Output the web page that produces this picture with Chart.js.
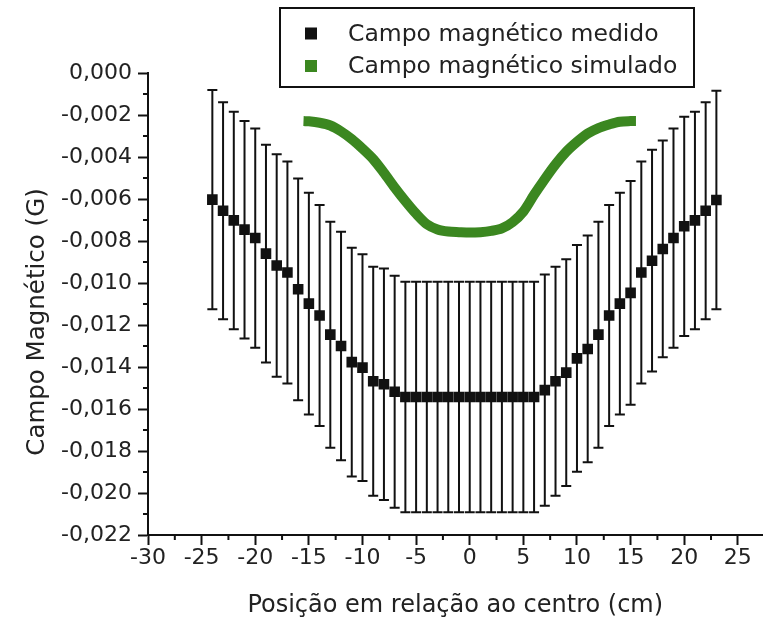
<!DOCTYPE html>
<html>
<head>
<meta charset="utf-8">
<script src="https://cdn.jsdelivr.net/npm/chart.js@4.4.1/dist/chart.umd.min.js"></script>
<style>
  html, body { margin: 0; padding: 0; background: #fff; }
  canvas { display: block; }
</style>
</head>
<body>
<canvas id="fieldChart" width="770" height="621"></canvas>
<script>
// measured field (G) vs position (cm), with error bars
const positions = [-24, -23, -22, -21, -20, -19, -18, -17, -16, -15, -14, -13, -12, -11, -10, -9, -8, -7,
  -6, -5, -4, -3, -2, -1, 0, 1, 2, 3, 4, 5, 6,
  7, 8, 9, 10, 11, 12, 13, 14, 15, 16, 17, 18, 19, 20, 21, 22, 23];
const measured = [-0.00603, -0.00656, -0.00702, -0.00746, -0.00786, -0.00860, -0.00917, -0.00950, -0.01030,
  -0.01098, -0.01155, -0.01246, -0.01300, -0.01377, -0.01403, -0.01468, -0.01482, -0.01518,
  -0.01543, -0.01543, -0.01543, -0.01543, -0.01543, -0.01543, -0.01543, -0.01543, -0.01543, -0.01543, -0.01543, -0.01543, -0.01543,
  -0.01510, -0.01468, -0.01427, -0.01359, -0.01314, -0.01246, -0.01155, -0.01098, -0.01047, -0.00950,
  -0.00894, -0.00838, -0.00786, -0.00730, -0.00702, -0.00656, -0.00605];
const measuredErr = [0.00522, 0.00517, 0.00518, 0.00518, 0.00522, 0.00518, 0.00530, 0.00528, 0.00528,
  0.00528, 0.00526, 0.00538, 0.00544, 0.00545, 0.00540, 0.00545, 0.00551, 0.00552,
  0.00549, 0.00549, 0.00549, 0.00549, 0.00549, 0.00549, 0.00549, 0.00549, 0.00549, 0.00549, 0.00549, 0.00549, 0.00549,
  0.00551, 0.00545, 0.00540, 0.00540, 0.00540, 0.00538, 0.00526, 0.00528, 0.00533, 0.00528,
  0.00528, 0.00516, 0.00522, 0.00522, 0.00518, 0.00517, 0.00520];

// simulated field
const simPositions = [-15.5, -15, -14, -13, -12, -11, -10, -9, -8, -7, -6, -5, -4, -3, -2, -1, 0,
  1, 2, 3, 4, 5, 6, 7, 8, 9, 10, 11, 12, 13, 14, 15, 15.5];
const simulated = [-0.00229, -0.00230, -0.00237, -0.00250, -0.00278, -0.00315, -0.00360, -0.00410, -0.00475,
  -0.00545, -0.00610, -0.00670, -0.00720, -0.00745, -0.00755, -0.00758, -0.00760,
  -0.00758, -0.00752, -0.00740, -0.00710, -0.00660, -0.00580, -0.00505, -0.00435, -0.00375,
  -0.00328, -0.00288, -0.00262, -0.00245, -0.00232, -0.00229, -0.00229];

const seriesLabels = ['Campo magnético medido', 'Campo magnético simulado'];
const xTitle = 'Posição em relação ao centro (cm)';
const yTitle = 'Campo Magnético (G)';

const INK = '#111';
const TEXT = '#222';
const GREEN = '#3b8720';
const FONT = 'DejaVu Sans';

const isMajorY = v => Math.round(Math.abs(v) * 1000) % 2 === 0;
const isMajorX = v => Math.round(v * 10) % 50 === 0;

// error bars drawn under the squares
const errorBars = {
  id: 'errorBars',
  beforeDatasetsDraw(chart) {
    const { ctx, scales: { x, y } } = chart;
    ctx.save();
    ctx.strokeStyle = INK;
    ctx.lineWidth = 2;
    positions.forEach((p, i) => {
      const px = x.getPixelForValue(p);
      const top = y.getPixelForValue(measured[i] + measuredErr[i]);
      const bot = y.getPixelForValue(measured[i] - measuredErr[i]);
      ctx.beginPath();
      ctx.moveTo(px, top); ctx.lineTo(px, bot);
      ctx.moveTo(px - 5, top); ctx.lineTo(px + 5, top);
      ctx.moveTo(px - 5, bot); ctx.lineTo(px + 5, bot);
      ctx.stroke();
    });
    ctx.restore();
  }
};

// short minor ticks + y title (sits a bit below the axis middle)
const axisExtras = {
  id: 'axisExtras',
  afterDraw(chart) {
    const { ctx, scales: { x, y } } = chart;
    ctx.save();
    ctx.strokeStyle = INK;
    ctx.lineWidth = 2;
    ctx.beginPath();
    y.ticks.forEach(t => {
      if (isMajorY(t.value)) return;
      const py = y.getPixelForValue(t.value);
      ctx.moveTo(y.right - 5, py); ctx.lineTo(y.right, py);
    });
    x.ticks.forEach(t => {
      if (isMajorX(t.value)) return;
      const px = x.getPixelForValue(t.value);
      ctx.moveTo(px, x.top); ctx.lineTo(px, x.top + 5);
    });
    ctx.stroke();

    ctx.translate(38, (y.top + y.bottom) / 2 + 18);
    ctx.rotate(-Math.PI / 2);
    ctx.font = '24.5px "' + FONT + '"';
    ctx.fillStyle = TEXT;
    ctx.textAlign = 'center';
    ctx.textBaseline = 'middle';
    ctx.fillText(yTitle, 0, 0);
    ctx.restore();
  }
};

// boxed legend overlapping the top of the plot
const boxLegend = {
  id: 'boxLegend',
  afterDraw(chart) {
    const ctx = chart.ctx;
    ctx.save();
    ctx.fillStyle = '#fff';
    ctx.fillRect(280, 8, 414, 79);
    ctx.strokeStyle = INK;
    ctx.lineWidth = 2;
    ctx.strokeRect(280, 8, 414, 79);
    ctx.font = '23.5px "' + FONT + '"';
    ctx.textBaseline = 'middle';
    chart.data.datasets.forEach((ds, i) => {
      const cy = 33.5 + i * 32.5;
      ctx.fillStyle = ds.legendColor;
      ctx.fillRect(305, cy - 6, 12, 12);
      ctx.fillStyle = TEXT;
      ctx.fillText(ds.label, 348, cy + 1);
    });
    ctx.restore();
  }
};

const ctx = document.getElementById('fieldChart').getContext('2d');
const fieldChart = new Chart(ctx, {
  type: 'scatter',
  data: {
    datasets: [
      {
        label: seriesLabels[0],
        data: positions.map((p, i) => ({ x: p, y: measured[i] })),
        backgroundColor: INK,
        borderColor: INK,
        legendColor: INK,
        pointStyle: 'rect',
        pointRadius: 7.5,
        pointBorderWidth: 0,
        showLine: false
      },
      {
        label: seriesLabels[1],
        data: simPositions.map((p, i) => ({ x: p, y: simulated[i] })),
        borderColor: GREEN,
        backgroundColor: GREEN,
        legendColor: GREEN,
        borderWidth: 10,
        borderCapStyle: 'butt',
        borderJoinStyle: 'round',
        pointRadius: 0,
        showLine: true,
        tension: 0.3
      }
    ]
  },
  options: {
    responsive: false,
    animation: false,
    layout: { padding: { left: 0, top: 73, right: 0, bottom: 0 } },
    plugins: {
      legend: { display: false },
      tooltip: { enabled: false }
    },
    scales: {
      x: {
        type: 'linear',
        min: -30,
        max: 27.3,
        afterFit: s => { s.height = 86; },
        border: { display: true, color: INK, width: 2 },
        grid: {
          drawOnChartArea: false,
          drawTicks: true,
          tickLength: 10,
          tickWidth: 2,
          tickColor: c => (c.tick && isMajorX(c.tick.value)) ? INK : 'rgba(0,0,0,0)'
        },
        ticks: {
          stepSize: 2.5,
          includeBounds: false,
          autoSkip: false,
          maxRotation: 0,
          padding: 0,
          color: TEXT,
          font: { family: FONT, size: 22 },
          callback: v => isMajorX(v) ? String(Math.round(v)) : ''
        },
        title: {
          display: true,
          text: xTitle,
          color: TEXT,
          font: { family: FONT, size: 24 },
          padding: { top: 0, bottom: 1 }
        }
      },
      y: {
        type: 'linear',
        min: -0.022,
        max: 0,
        afterFit: s => { s.width = 148; },
        border: { display: true, color: INK, width: 2 },
        grid: {
          drawOnChartArea: false,
          drawTicks: true,
          tickLength: 10,
          tickWidth: 2,
          tickColor: c => (c.tick && isMajorY(c.tick.value)) ? INK : 'rgba(0,0,0,0)'
        },
        ticks: {
          stepSize: 0.001,
          autoSkip: false,
          padding: 6,
          color: TEXT,
          font: { family: FONT, size: 22 },
          callback: v => {
            if (!isMajorY(v)) return '';
            const r = Math.round(v * 1000) / 1000;
            return (r === 0 ? 0 : r).toFixed(3).replace('.', ',');
          }
        }
      }
    }
  },
  plugins: [errorBars, axisExtras, boxLegend]
});
</script>
</body>
</html>
